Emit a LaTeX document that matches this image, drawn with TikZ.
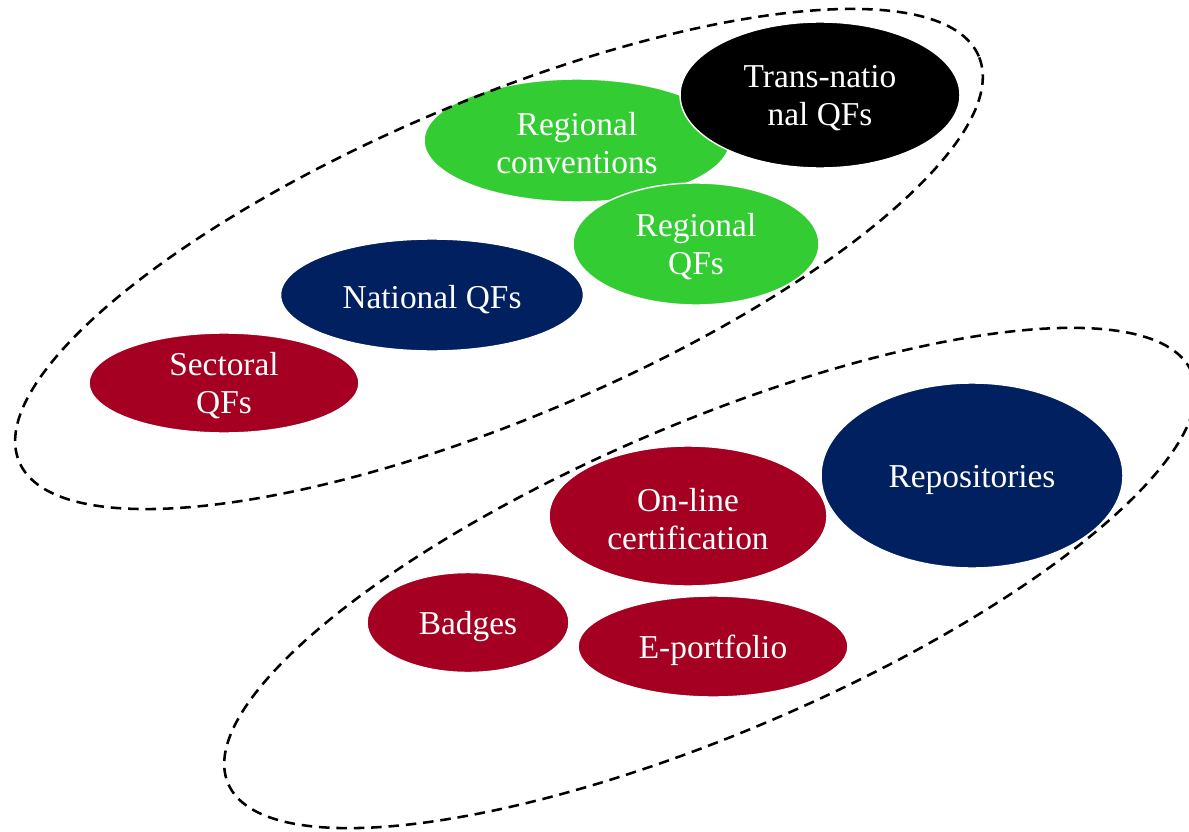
\documentclass[tikz,border=0pt]{standalone}
\usepackage{fontspec}
\setmainfont{Liberation Serif}
\usetikzlibrary{shapes.geometric}
\definecolor{cgreen}{HTML}{33CC33}
\definecolor{cnavy}{HTML}{002060}
\definecolor{cred}{HTML}{A50021}
\tikzset{
  blob/.style={ellipse, draw=white, line width=0.8pt, inner sep=0pt},
  lbl/.style={text=white, align=center, inner sep=0pt, yshift=-0.085cm,
    font=\fontsize{19}{21.6}\selectfont},
  lbltwo/.style={lbl, yshift=0.03cm},
  group/.style={draw=black, line width=1.45pt, dash pattern=on 6pt off 3.9pt}
}
\begin{document}
\begin{tikzpicture}[x=0.02cm,y=-0.02cm]
\useasboundingbox (0,0) rectangle (1189,831);
% upper group
\node[blob, fill=cred, minimum width=5.40cm, minimum height=2.00cm,
  label={[lbltwo]center:Sectoral\\QFs}] (sect) at (224,383) {};
\node[blob, fill=cnavy, minimum width=6.06cm, minimum height=2.24cm,
  label={[lbl]center:National QFs}] (nat) at (432,295) {};
\node[blob, fill=cgreen, minimum width=6.12cm, minimum height=2.46cm,
  label={[lbltwo]center:Regional\\conventions}] (conv) at (577,140.5) {};
\node[blob, fill=black, minimum width=5.60cm, minimum height=2.92cm,
  label={[lbltwo]center:Trans-natio\\nal QFs}] (trans) at (820,95) {};
\node[blob, fill=cgreen, minimum width=4.92cm, minimum height=2.44cm,
  label={[lbltwo]center:Regional\\QFs}] (reg) at (696,244) {};
% lower group
\node[blob, fill=cred, minimum width=5.56cm, minimum height=2.80cm,
  label={[lbltwo]center:On-line\\certification}] (online) at (688,516) {};
\node[blob, fill=cnavy, minimum width=6.04cm, minimum height=3.70cm,
  label={[lbl]center:Repositories}] (repo) at (972,475.5) {};
\node[blob, fill=cred, minimum width=4.04cm, minimum height=2.00cm,
  label={[lbl]center:Badges}] (badge) at (468,622.5) {};
\node[blob, fill=cred, minimum width=5.40cm, minimum height=2.02cm,
  label={[lbl]center:E-portfolio}] (eport) at (713,646.5) {};
% dashed group outlines
\coordinate (gA) at (499,259);
\coordinate (gB) at (710,578);
\draw[group, rotate around={22.9:(gA)}] (gA) ellipse [x radius=10.42cm, y radius=3.18cm];
\draw[group, rotate around={23.1:(gB)}] (gB) ellipse [x radius=10.48cm, y radius=3.10cm];
\end{tikzpicture}
\end{document}
